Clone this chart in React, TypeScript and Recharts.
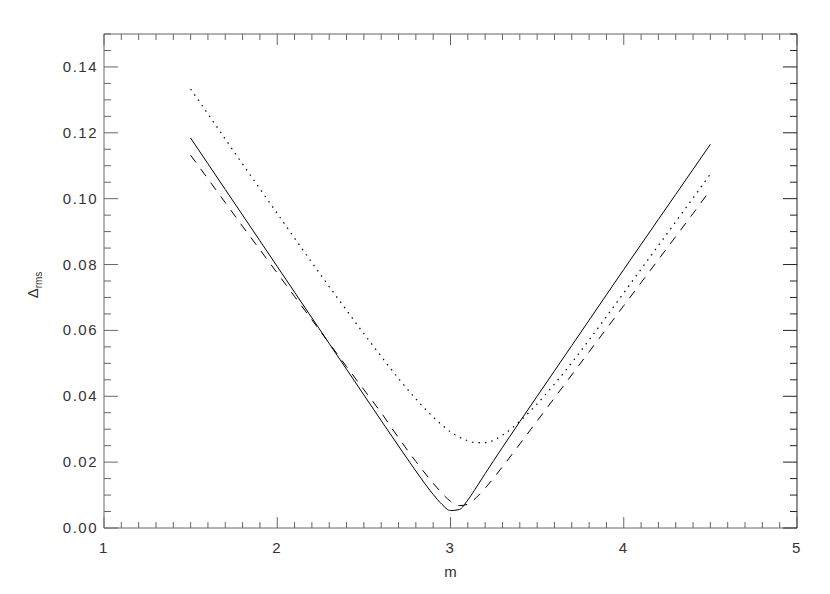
import { Line, LineChart, XAxis, YAxis } from "recharts";

// m grid shared by the three curves (denser round the minimum)
const mValues = [
  1.5, 1.6, 1.7, 1.8, 1.9, 2.0, 2.1, 2.2, 2.3, 2.4, 2.5, 2.6, 2.7, 2.8, 2.9, 2.95, 3.0,
  3.05, 3.1, 3.15, 3.2, 3.3, 3.4, 3.5, 3.6, 3.7, 3.8, 3.9, 4.0, 4.1, 4.2, 4.3, 4.4, 4.5,
];
const solidRms = [
  0.1184, 0.1106, 0.1028, 0.095, 0.0872, 0.0794, 0.0716, 0.0638, 0.056, 0.0482, 0.0404,
  0.0326, 0.0249, 0.0173, 0.0102, 0.0072, 0.0053, 0.0056, 0.0085, 0.0124, 0.0165, 0.0245,
  0.0323, 0.04, 0.0477, 0.0554, 0.0631, 0.0708, 0.0785, 0.0861, 0.0937, 0.1013, 0.1089, 0.1165,
];
const dashedRms = [
  0.1132, 0.106, 0.0988, 0.0916, 0.0845, 0.0774, 0.0703, 0.0632, 0.0561, 0.049, 0.042,
  0.035, 0.0274, 0.0202, 0.0136, 0.0106, 0.0081, 0.0068, 0.0072, 0.0093, 0.0121, 0.0186,
  0.0255, 0.0325, 0.0395, 0.0465, 0.0535, 0.0605, 0.0675, 0.0745, 0.0815, 0.0885, 0.0955, 0.1027,
];
const dottedRms = [
  0.1333, 0.1257, 0.1181, 0.1105, 0.103, 0.0955, 0.088, 0.0806, 0.0733, 0.0661, 0.059,
  0.0521, 0.0454, 0.0392, 0.0337, 0.0313, 0.0292, 0.0276, 0.0265, 0.0259, 0.0259, 0.0282,
  0.0324, 0.0377, 0.0437, 0.0502, 0.0571, 0.0642, 0.0714, 0.0786, 0.0858, 0.093, 0.1002, 0.1075,
];

const xMajor = [1, 2, 3, 4, 5];
const yMajor = [0, 0.02, 0.04, 0.06, 0.08, 0.1, 0.12, 0.14];
const xMinorStep = 0.1;
const yMinorStep = 0.005;

const xTicks = Array.from({ length: 41 }, (_, i) => +(1 + i * xMinorStep).toFixed(2));
const yTicks = Array.from({ length: 31 }, (_, i) => +(i * yMinorStep).toFixed(3));

const data = mValues.map((m, i) => ({
  m,
  solid: solidRms[i],
  dashed: dashedRms[i],
  dotted: dottedRms[i],
}));

const AXIS = "#666";
const INK = "#333";
const FONT = "'Liberation Sans', Arial, sans-serif";
// recharts places the tick anchor tickSize + tickMargin away from the axis line
const TICK_SIZE = 6;
const TICK_MARGIN = 2;
const OFF = TICK_SIZE + TICK_MARGIN;

const isMajor = (list: number[], v: number) => list.some((t) => Math.abs(t - v) < 1e-6);

function BottomTick({ x, y, payload }: any) {
  const major = isMajor(xMajor, payload.value);
  const y0 = y - OFF;
  return (
    <g>
      <line x1={x} y1={y0} x2={x} y2={y0 - (major ? 11 : 6)} stroke={AXIS} />
      {major && (
        <text x={x} y={y0 + 25} textAnchor="middle" fill={INK} fontFamily={FONT} fontSize={15} letterSpacing={1.5}>
          {payload.value}
        </text>
      )}
    </g>
  );
}

function TopTick({ x, y, payload }: any) {
  const major = isMajor(xMajor, payload.value);
  const y0 = y + OFF;
  return <line x1={x} y1={y0} x2={x} y2={y0 + (major ? 11 : 6)} stroke={AXIS} />;
}

function LeftTick({ x, y, payload }: any) {
  const major = isMajor(yMajor, payload.value);
  const x0 = x + OFF;
  return (
    <g>
      <line x1={x0} y1={y} x2={x0 + (major ? 14 : 7)} y2={y} stroke={AXIS} />
      {major && (
        <text x={x0 - 6} y={y + 5} textAnchor="end" fill={INK} fontFamily={FONT} fontSize={15} letterSpacing={1.5}>
          {payload.value.toFixed(2)}
        </text>
      )}
    </g>
  );
}

function RightTick({ x, y, payload }: any) {
  const major = isMajor(yMajor, payload.value);
  const x0 = x - OFF;
  return <line x1={x0} y1={y} x2={x0 - (major ? 14 : 7)} y2={y} stroke="#222" />;
}

function YTitle({ viewBox }: any) {
  const cx = viewBox.x + 4;
  const cy = viewBox.y + viewBox.height / 2 + 4;
  return (
    <text transform={`translate(${cx},${cy}) rotate(-90)`} textAnchor="middle" fill={INK} fontFamily={FONT} fontSize={15}>
      <tspan>Δ</tspan>
      <tspan fontSize={10} dy={4}>rms</tspan>
    </text>
  );
}

function XTitle({ viewBox }: any) {
  return (
    <text x={viewBox.x + viewBox.width / 2} y={viewBox.y + 49} textAnchor="middle" fill={INK} fontFamily={FONT} fontSize={15}>
      m
    </text>
  );
}

const common = {
  allowDataOverflow: true,
  interval: 0 as const,
  tickLine: false,
  tickSize: TICK_SIZE,
  tickMargin: TICK_MARGIN,
};

export default function App() {
  return (
    <div style={{ position: "absolute", left: 0, top: 0, width: 830, height: 594, background: "#fff" }}>
      <LineChart width={830} height={594} data={data} margin={{ top: 33, right: 32, bottom: 16, left: 34 }}>
        <XAxis
          {...common}
          dataKey="m"
          type="number"
          domain={[1, 5]}
          ticks={xTicks}
          tick={BottomTick}
          axisLine={{ stroke: AXIS }}
          height={50}
          label={XTitle}
        />
        <XAxis
          {...common}
          xAxisId="top"
          orientation="top"
          dataKey="m"
          type="number"
          domain={[1, 5]}
          ticks={xTicks}
          tick={TopTick}
          axisLine={{ stroke: AXIS }}
          height={1}
        />
        <YAxis
          {...common}
          type="number"
          domain={[0, 0.15]}
          ticks={yTicks}
          tick={LeftTick}
          axisLine={{ stroke: AXIS }}
          width={70}
          label={YTitle}
        />
        <YAxis
          {...common}
          yAxisId="right"
          orientation="right"
          type="number"
          domain={[0, 0.15]}
          ticks={yTicks}
          tick={RightTick}
          axisLine={{ stroke: "#222" }}
          width={1}
        />
        <Line dataKey="solid" type="monotone" stroke="#000" strokeWidth={1} dot={false} isAnimationActive={false} />
        <Line dataKey="dashed" type="monotone" stroke="#000" strokeWidth={1} strokeDasharray="9 8" dot={false} isAnimationActive={false} />
        <Line dataKey="dotted" type="monotone" stroke="#000" strokeWidth={1.2} strokeDasharray="1.5 5" dot={false} isAnimationActive={false} />
      </LineChart>
    </div>
  );
}
